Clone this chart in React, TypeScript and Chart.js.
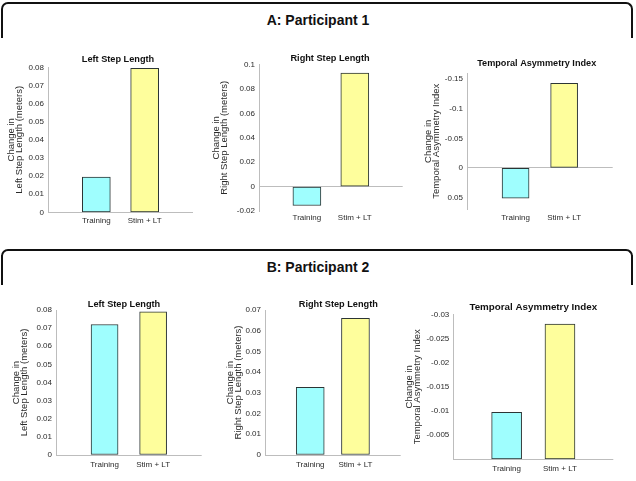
import React, { useEffect, useRef } from 'react';
import { Chart, registerables } from 'chart.js';

Chart.register(...registerables);

// ---------- data ----------
const categories = ['Training', 'Stim + LT'];

const p1LeftStep = [0.0195, 0.0795];
const p1RightStep = [-0.0155, 0.093];
const p1Temporal = [0.051, -0.143];
const p2LeftStep = [0.072, 0.079];
const p2RightStep = [0.0327, 0.066];
const p2Temporal = [-0.0097, -0.028];

const leftStepTicks = [0, 0.01, 0.02, 0.03, 0.04, 0.05, 0.06, 0.07, 0.08];
const p1RightStepTicks = [-0.02, 0, 0.02, 0.04, 0.06, 0.08, 0.1];
const p1TemporalTicks = [-0.15, -0.1, -0.05, 0, 0.05];
const p2RightStepTicks = [0, 0.01, 0.02, 0.03, 0.04, 0.05, 0.06, 0.07];
const p2TemporalTicks = [-0.03, -0.025, -0.02, -0.015, -0.01, -0.005, 0];

const panelTitles = ['A: Participant 1', 'B: Participant 2'];

// ---------- styles ----------
const FONT = '"Liberation Sans", Arial, Helvetica, sans-serif';
const CYAN = '#9ffefe';
const YELLOW = '#fefe9c';
const EDGE = '#2c3535';
const AXIS = '#bdbdbd';
const TEXT = '#2a2a2a';
const W = 636;
const H = 481;
const YLABEL_SIZE = 9.5;
const YLABEL_LH = 0.85;
const TICK_SIZE = 8;

type Spec = {
  values: number[];
  ticks: number[];
  min: number;
  max: number;
  reverse: boolean;
  hideZero?: boolean;
  plot: { l: number; r: number; t: number; b: number };
  title: string;
  titleX: number;
  titleY: number;
  titleSize: number;
  ylabel: string[];
  ylabelX: number;
  xLabelY: number;
  barW: number;
};

const specs: Spec[] = [
  {
    values: p1LeftStep, ticks: leftStepTicks, min: 0, max: 0.08, reverse: false,
    plot: { l: 48, r: 193, t: 67.3, b: 212.3 },
    title: 'Left Step Length', titleX: 118, titleY: 59, titleSize: 9.2,
    ylabel: ['Change in', 'Left Step Length (meters)'], ylabelX: 11.5, xLabelY: 220.7, barW: 28,
  },
  {
    values: p1RightStep, ticks: p1RightStepTicks, min: -0.02, max: 0.1, reverse: false,
    plot: { l: 259, r: 402.7, t: 64.5, b: 211 },
    title: 'Right Step Length', titleX: 330, titleY: 58.3, titleSize: 9.2,
    ylabel: ['Change in', 'Right Step Length (meters)'], ylabelX: 216, xLabelY: 218, barW: 28,
  },
  {
    values: p1Temporal, ticks: p1TemporalTicks, min: -0.16, max: 0.07, reverse: true,
    plot: { l: 467, r: 612.7, t: 73.3, b: 209.3 },
    title: 'Temporal Asymmetry Index', titleX: 536.7, titleY: 63.3, titleSize: 9.15,
    ylabel: ['Change in', 'Temporal Asymmetry Index'], ylabelX: 428, xLabelY: 217.7, barW: 27,
  },
  {
    values: p2LeftStep, ticks: leftStepTicks, min: 0, max: 0.08, reverse: false,
    plot: { l: 56, r: 201.7, t: 310, b: 455 },
    title: 'Left Step Length', titleX: 124, titleY: 304, titleSize: 9.2,
    ylabel: ['Change in', 'Left Step Length (meters)'], ylabelX: 16, xLabelY: 464.3, barW: 27,
  },
  {
    values: p2RightStep, ticks: p2RightStepTicks, min: 0, max: 0.07, reverse: false,
    plot: { l: 265, r: 400.7, t: 310, b: 455 },
    title: 'Right Step Length', titleX: 338.3, titleY: 304, titleSize: 9.2,
    ylabel: ['Change in', 'Right Step Length (meters)'], ylabelX: 230.5, xLabelY: 464.3, barW: 28,
  },
  {
    values: p2Temporal, ticks: p2TemporalTicks, min: -0.03, max: 0, reverse: true, hideZero: true,
    plot: { l: 453.3, r: 613.3, t: 314.3, b: 459.3 },
    title: 'Temporal Asymmetry Index', titleX: 533.3, titleY: 307.7, titleSize: 9.8,
    ylabel: ['Change in', 'Temporal Asymmetry Index'], ylabelX: 409, xLabelY: 469, barW: 30,
  },
];

function makeConfig(spec: Spec): any {
  const XH = 20;
  const lh = YLABEL_SIZE * YLABEL_LH;
  const padLeft = spec.ylabelX - lh / 2;
  const YW = spec.plot.l - padLeft;
  const tickLH = TICK_SIZE * 1.2;
  const xPad = spec.xLabelY - spec.plot.b - tickLH / 2;

  const titlePlugin = {
    id: 'subTitle',
    afterDraw(chart: any) {
      const ctx = chart.ctx;
      ctx.save();
      ctx.font = `bold ${spec.titleSize}px ${FONT}`;
      ctx.fillStyle = '#111';
      ctx.textAlign = 'center';
      ctx.textBaseline = 'middle';
      ctx.fillText(spec.title, spec.titleX, spec.titleY);
      ctx.restore();
    },
  };

  return {
    type: 'bar',
    data: {
      labels: ['', ...categories, ''],
      datasets: [
        {
          data: [null, ...spec.values, null],
          backgroundColor: ['rgba(0,0,0,0)', CYAN, YELLOW, 'rgba(0,0,0,0)'],
          borderColor: EDGE,
          borderWidth: 1,
          borderSkipped: false,
          barThickness: spec.barW,
        },
      ],
    },
    options: {
      responsive: false,
      animation: false,
      events: [],
      layout: {
        padding: {
          left: padLeft,
          top: spec.plot.t,
          right: W - spec.plot.r,
          bottom: H - spec.plot.b - XH,
        },
      },
      plugins: {
        legend: { display: false },
        tooltip: { enabled: false },
        title: { display: false },
      },
      scales: {
        x: {
          type: 'category',
          offset: false,
          grid: { display: false, drawTicks: false },
          border: { display: false },
          ticks: {
            autoSkip: false,
            maxRotation: 0,
            minRotation: 0,
            padding: xPad,
            color: TEXT,
            font: { family: FONT, size: TICK_SIZE, lineHeight: 1.2 },
          },
          afterFit: (s: any) => {
            s.height = XH;
          },
        },
        y: {
          type: 'linear',
          min: spec.min,
          max: spec.max,
          reverse: spec.reverse,
          grid: {
            drawTicks: false,
            lineWidth: 1,
            color: (c: any) => (c.tick && c.tick.value === 0 ? AXIS : 'rgba(0,0,0,0)'),
          },
          border: { display: true, color: AXIS, width: 1 },
          ticks: {
            padding: 4,
            color: TEXT,
            font: { family: FONT, size: TICK_SIZE },
            callback: (v: any) => (spec.hideZero && Number(v) === 0 ? '' : String(v)),
          },
          afterBuildTicks: (s: any) => {
            s.ticks = spec.ticks.map((v) => ({ value: v }));
          },
          afterFit: (s: any) => {
            s.width = YW;
          },
          title: {
            display: true,
            text: spec.ylabel,
            color: TEXT,
            font: { family: FONT, size: YLABEL_SIZE, lineHeight: YLABEL_LH },
            padding: { top: 0, bottom: 0 },
          },
        },
      },
    },
    plugins: [titlePlugin],
  };
}

function Panel({ spec }: { spec: Spec }) {
  const ref = useRef<HTMLCanvasElement | null>(null);
  useEffect(() => {
    if (!ref.current) return;
    const chart = new Chart(ref.current, makeConfig(spec));
    return () => chart.destroy();
  }, [spec]);
  return (
    <canvas
      ref={ref}
      width={W}
      height={H}
      style={{ position: 'absolute', left: 0, top: 0, width: W, height: H }}
    />
  );
}

function Bracket({ top, label }: { top: number; label: string }) {
  return (
    <>
      <div
        style={{
          position: 'absolute',
          left: 1,
          top,
          width: 632,
          height: 36,
          boxSizing: 'border-box',
          borderTop: '2px solid #111',
          borderLeft: '2px solid #111',
          borderRight: '2px solid #111',
          borderRadius: '7px 7px 0 0',
        }}
      />
      <div
        style={{
          position: 'absolute',
          left: 0,
          width: W,
          top: top + 10,
          lineHeight: '16px',
          textAlign: 'center',
          fontFamily: FONT,
          fontWeight: 'bold',
          fontSize: 14,
          color: '#111',
        }}
      >
        {label}
      </div>
    </>
  );
}

export default function App() {
  return (
    <div
      style={{
        position: 'absolute',
        left: 0,
        top: 0,
        width: W,
        height: H,
        background: '#fff',
        overflow: 'hidden',
      }}
    >
      <Bracket top={2} label={panelTitles[0]} />
      <Bracket top={249} label={panelTitles[1]} />
      {specs.map((s, i) => (
        <Panel key={i} spec={s} />
      ))}
    </div>
  );
}
